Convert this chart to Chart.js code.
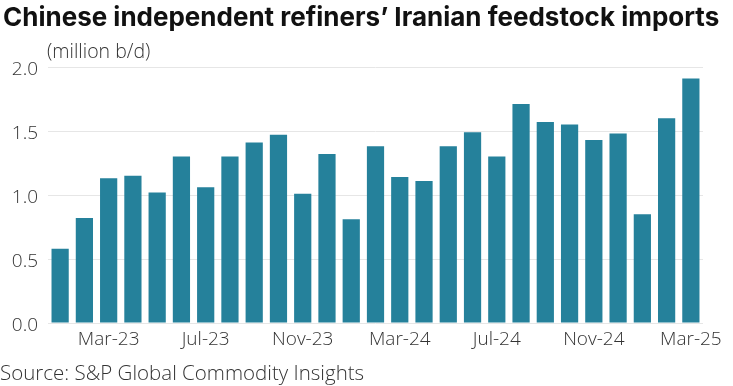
<!DOCTYPE html>
<html>
<head>
<meta charset="utf-8">
<script src="https://cdn.jsdelivr.net/npm/chart.js"></script>
<style>
  body { margin: 0; background: #fff; }
  canvas { display: block; }
</style>
</head>
<body>
<canvas id="chartIran" width="733" height="386"></canvas>
<script>
const months = ['Jan-23', 'Feb-23', 'Mar-23', 'Apr-23', 'May-23', 'Jun-23', 'Jul-23', 'Aug-23', 'Sep-23',
    'Oct-23', 'Nov-23', 'Dec-23', 'Jan-24', 'Feb-24', 'Mar-24', 'Apr-24', 'May-24', 'Jun-24',
    'Jul-24', 'Aug-24', 'Sep-24', 'Oct-24', 'Nov-24', 'Dec-24', 'Jan-25', 'Feb-25', 'Mar-25'];
const imports = [0.58, 0.82, 1.13, 1.15, 1.02, 1.30, 1.06, 1.30, 1.41,
    1.47, 1.01, 1.32, 0.81, 1.38, 1.14, 1.11, 1.38, 1.49,
    1.30, 1.71, 1.57, 1.55, 1.43, 1.48, 0.85, 1.60, 1.91];
const shownTicks = ['Mar-23', 'Jul-23', 'Nov-23', 'Mar-24', 'Jul-24', 'Nov-24', 'Mar-25'];
const yTicks = [0, 0.5, 1.0, 1.5, 2.0];

const titleText = 'Chinese independent refiners\u2019 Iranian feedstock imports';
const unitText = '(million b/d)';
const sourceText = 'Source: S&P Global Commodity Insights';

const smallFont = { family: 'Open Sans', size: 19, weight: '300' };

// title, unit and source are painted straight on the canvas
const textPlugin = {
    id: 'texts',
    afterDraw(chart) {
        const c = chart.ctx;
        c.save();
        c.fillStyle = '#111';
        c.textBaseline = 'alphabetic';
        c.font = 'bold 26px Inter';
        c.fillText(titleText, 3, 26);
        c.fillStyle = '#333';
        c.font = '300 19.5px "Open Sans"';
        c.fillText(unitText, 47, 58);
        c.font = '300 20.5px "Open Sans"';
        c.fillText(sourceText, 0, 380);
        c.restore();
    }
};

const ctxIran = document.getElementById('chartIran').getContext('2d');
new Chart(ctxIran, {
    type: 'bar',
    data: {
        labels: months,
        datasets: [{
            data: imports,
            backgroundColor: '#25819b',
            barPercentage: 0.71,
            categoryPercentage: 1
        }]
    },
    options: {
        responsive: false,
        animation: false,
        layout: { padding: { top: 67, right: 30, bottom: 28, left: 0 } },
        plugins: {
            legend: { display: false },
            tooltip: { enabled: false }
        },
        scales: {
            x: {
                grid: { display: false, drawTicks: false },
                border: { display: false },
                afterFit(scale) { scale.height = 35; },
                ticks: {
                    autoSkip: false,
                    maxRotation: 0,
                    padding: 5,
                    color: '#333',
                    font: smallFont,
                    callback(value) {
                        const lab = this.getLabelForValue(value);
                        return shownTicks.includes(lab) ? lab : '';
                    }
                }
            },
            y: {
                min: 0,
                max: 2,
                afterFit(scale) { scale.width = 48; },
                afterBuildTicks(scale) { scale.ticks = yTicks.map(v => ({ value: v })); },
                grid: { color: '#e6e6e6', drawTicks: false },
                border: { display: false },
                ticks: {
                    padding: 10,
                    labelOffset: 3,
                    color: '#333',
                    font: smallFont,
                    callback: v => v.toFixed(1)
                }
            }
        }
    },
    plugins: [textPlugin]
});
</script>
</body>
</html>
